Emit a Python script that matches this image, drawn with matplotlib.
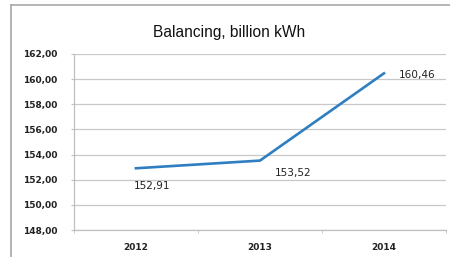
import matplotlib.pyplot as plt
from matplotlib.lines import Line2D

years = ["2012", "2013", "2014"]
balancing = [152.91, 153.52, 160.46]
labels = ["152,91", "153,52", "160,46"]
yticks = [148, 150, 152, 154, 156, 158, 160, 162]

fig = plt.figure(figsize=(4.5, 2.57), dpi=100)
ax = fig.add_axes([0.1644, 0.105, 0.8266, 0.685])

x = list(range(len(years)))
ax.plot(x, balancing, color="#2f7ec1", linewidth=1.9, solid_joinstyle="miter")

# label offsets in points, roughly where Excel put them
offsets = [(11.5, -13), (24, -9), (24, -1)]
for xi, v, lab, off in zip(x, balancing, labels, offsets):
    ax.annotate(lab, (xi, v), xytext=off, textcoords="offset points",
                ha="center", va="center", fontsize=7.6, color="#222222",
                family="DejaVu Sans")

ax.set_xlim(-0.5, 2.5)
ax.set_ylim(148, 162)
ax.set_yticks(yticks)
ax.set_yticklabels([f"{t},00" for t in yticks])
ax.set_xticks(x)
ax.set_xticklabels(years)
ax.set_xticks([-0.5, 0.5, 1.5, 2.5], minor=True)

ax.grid(axis="y", color="#c8c8c8", linewidth=0.9)
ax.set_axisbelow(True)
for s in ["top", "right"]:
    ax.spines[s].set_visible(False)
for s in ["left", "bottom"]:
    ax.spines[s].set_color("#c0c0c0")
    ax.spines[s].set_linewidth(0.9)

ax.tick_params(axis="y", length=2.5, color="#c0c0c0", pad=9.5, labelsize=6.5)
ax.tick_params(axis="x", which="major", length=0, pad=9, labelsize=6.5)
ax.tick_params(axis="x", which="minor", length=2.5, color="#c0c0c0")
for t in ax.get_xticklabels() + ax.get_yticklabels():
    t.set_fontweight("bold")
    t.set_color("#222222")

fig.text(0.509, 0.872, "Balancing, billion kWh", ha="center", va="center",
         fontsize=11.2, family="Liberation Sans", color="#111111")

# grey chart border: only left and top edges are inside the image
bx, by = 11 / 450, 1 - 5 / 257
fig.add_artist(Line2D([bx, bx], [0, by], transform=fig.transFigure,
                      color="#a8a8a8", linewidth=1.2))
fig.add_artist(Line2D([bx, 1], [by, by], transform=fig.transFigure,
                      color="#a8a8a8", linewidth=1.2))

fig.savefig("out.png", dpi=100)
